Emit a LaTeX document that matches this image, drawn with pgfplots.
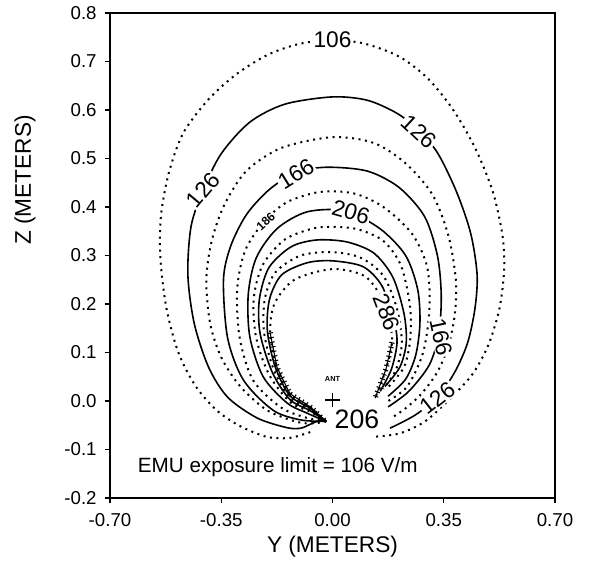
\documentclass[border=0pt]{standalone}
\usepackage{fontspec}
\setmainfont{Liberation Sans}
\usepackage{pgfplots}
\pgfplotsset{compat=1.18}
\usetikzlibrary{decorations.pathreplacing}
\pgfplotsset{
  dotc/.style={black, line width=1.5pt, dash pattern=on 1.5pt off 3.4pt, smooth, no marks},
  solc/.style={black, line width=1.2pt, smooth, no marks},
}
\tikzset{clab/.style={fill=white, inner sep=0.8pt, font=\fontsize{17}{17}\selectfont}}
\begin{document}
\begin{tikzpicture}
\begin{axis}[
  scale only axis, width=333.75pt, height=363.75pt,
  xmin=-0.7, xmax=0.7, ymin=-0.2, ymax=0.8,
  xtick={-0.7,-0.35,0,0.35,0.7},
  xticklabels={-0.70,-0.35,0.00,0.35,0.70},
  ytick={-0.2,-0.1,0,0.1,0.2,0.3,0.4,0.5,0.6,0.7,0.8},
  yticklabels={-0.2,-0.1,0.0,0.1,0.2,0.3,0.4,0.5,0.6,0.7,0.8},
  xtick pos=lower, ytick pos=left,
  tick align=outside, major tick length=4pt,
  tick style={black, line width=0.9pt},
  axis line style={line width=1.4pt},
  xticklabel style={font=\fontsize{14}{14}\selectfont, yshift=-4pt},
  yticklabel style={font=\fontsize{14}{14}\selectfont, xshift=-2.5pt},
  xlabel={Y (METERS)}, ylabel={Z (METERS)},
  xlabel style={at={(rel axis cs:0.5,-0.101)}, anchor=center, font=\fontsize{17}{17}\selectfont},
  ylabel style={at={(rel axis cs:-0.191,0.656)}, anchor=center, font=\fontsize{17}{17}\selectfont},
  clip=false,
]
% 106
\addplot[dotc] coordinates {(-0.07,-0.064) (-0.134,-0.076) (-0.206,-0.074) (-0.29,-0.052) (-0.363,-0.02) (-0.43,0.03) (-0.485,0.1) (-0.522,0.19) (-0.541,0.29) (-0.54,0.38) (-0.515,0.47) (-0.47,0.552) (-0.39,0.622) (-0.3,0.675) (-0.2,0.715) (-0.1,0.737) (0,0.744) (0.1,0.737) (0.21,0.71) (0.3,0.665) (0.38,0.6) (0.45,0.52) (0.505,0.43) (0.535,0.34) (0.54,0.27) (0.525,0.19) (0.49,0.115) (0.44,0.055) (0.37,0.005) (0.291,-0.042) (0.21,-0.067) (0.124,-0.074)};
% 126
\addplot[solc] coordinates {(-0.02,-0.042) (-0.045,-0.041) (-0.07,-0.048) (-0.1,-0.056) (-0.143,-0.055) (-0.237,-0.035) (-0.33,0.008) (-0.39,0.07) (-0.435,0.16) (-0.455,0.26) (-0.445,0.36) (-0.407,0.435) (-0.35,0.51) (-0.26,0.575) (-0.15,0.612) (0,0.627) (0.11,0.62) (0.206,0.592) (0.275,0.555) (0.332,0.51) (0.391,0.43) (0.435,0.345) (0.455,0.26) (0.448,0.19) (0.425,0.12) (0.385,0.06) (0.33,0.008) (0.26,-0.029) (0.181,-0.056)};
% 146
\addplot[dotc] coordinates {(-0.02,-0.042) (-0.06,-0.046) (-0.112,-0.043) (-0.206,-0.019) (-0.29,0.03) (-0.35,0.09) (-0.385,0.16) (-0.397,0.25) (-0.38,0.33) (-0.34,0.405) (-0.27,0.475) (-0.16,0.522) (0,0.544) (0.13,0.532) (0.23,0.49) (0.315,0.425) (0.365,0.34) (0.388,0.25) (0.385,0.18) (0.365,0.115) (0.33,0.06) (0.28,0.015) (0.23,-0.015) (0.19,-0.033)};
% 166
\addplot[solc] coordinates {(-0.02,-0.042) (-0.1,-0.039) (-0.187,-0.019) (-0.28,0.043) (-0.33,0.13) (-0.343,0.25) (-0.32,0.32) (-0.27,0.385) (-0.197,0.437) (-0.112,0.472) (-0.017,0.482) (0.11,0.474) (0.21,0.44) (0.29,0.38) (0.33,0.3) (0.342,0.22) (0.335,0.14) (0.305,0.075) (0.24,0.02) (0.175,-0.012)};
% 186
\addplot[dotc] coordinates {(-0.02,-0.042) (-0.09,-0.033) (-0.165,-0.012) (-0.25,0.043) (-0.292,0.13) (-0.3,0.23) (-0.275,0.31) (-0.215,0.37) (-0.143,0.41) (-0.04,0.431) (0.067,0.428) (0.16,0.40) (0.25,0.345) (0.298,0.276) (0.305,0.19) (0.285,0.1) (0.235,0.03) (0.17,-0.002)};
% 206
\addplot[solc] coordinates {(-0.02,-0.042) (-0.08,-0.025) (-0.143,-0.004) (-0.218,0.05) (-0.26,0.132) (-0.265,0.22) (-0.24,0.295) (-0.175,0.355) (-0.08,0.39) (0.04,0.392) (0.15,0.355) (0.23,0.3) (0.268,0.23) (0.275,0.16) (0.262,0.095) (0.23,0.045) (0.175,0.01)};
% 226
\addplot[dotc] coordinates {(-0.02,-0.042) (-0.07,-0.022) (-0.134,-0.002) (-0.2,0.055) (-0.24,0.13) (-0.248,0.21) (-0.22,0.28) (-0.15,0.333) (-0.06,0.356) (0.0,0.359) (0.08,0.354) (0.16,0.33) (0.215,0.28) (0.243,0.2) (0.245,0.13) (0.225,0.07) (0.17,0.025)};
% 246
\addplot[solc] coordinates {(-0.02,-0.042) (-0.07,-0.02) (-0.134,0.003) (-0.19,0.06) (-0.228,0.14) (-0.23,0.21) (-0.2,0.275) (-0.13,0.318) (-0.05,0.332) (0.045,0.328) (0.13,0.305) (0.19,0.255) (0.225,0.18) (0.232,0.12) (0.212,0.07) (0.165,0.03)};
% 266
\addplot[dotc] coordinates {(-0.02,-0.042) (-0.07,-0.018) (-0.134,0.007) (-0.185,0.065) (-0.215,0.14) (-0.213,0.21) (-0.18,0.265) (-0.1,0.3) (0.0,0.307) (0.09,0.295) (0.16,0.258) (0.203,0.19) (0.218,0.12) (0.2,0.065) (0.16,0.025)};
% 286
\addplot[solc] coordinates {(-0.02,-0.042) (-0.07,-0.015) (-0.134,0.011) (-0.18,0.07) (-0.205,0.145) (-0.198,0.21) (-0.16,0.26) (-0.08,0.285) (0.0,0.289) (0.096,0.277) (0.155,0.238) (0.192,0.17) (0.203,0.12) (0.185,0.065) (0.15,0.02)};
% 306
\addplot[dotc] coordinates {(-0.02,-0.042) (-0.07,-0.012) (-0.134,0.015) (-0.175,0.07) (-0.196,0.14) (-0.183,0.2) (-0.12,0.25) (0.0,0.272) (0.1,0.258) (0.152,0.215) (0.18,0.16) (0.187,0.12) (0.168,0.065) (0.134,0.006)};
\addplot[black, line width=0.8pt, no marks, postaction={draw, decorate, decoration={ticks, segment length=3.5pt, amplitude=2pt}}] coordinates {(-0.196,0.14) (-0.175,0.07) (-0.134,0.015) (-0.07,-0.012) (-0.025,-0.04)};
\addplot[black, line width=0.8pt, no marks, postaction={draw, decorate, decoration={ticks, segment length=3.5pt, amplitude=2pt}}] coordinates {(0.187,0.12) (0.168,0.065) (0.134,0.006)};
% antenna
\addplot[only marks, mark=+, mark size=5.5pt, line width=1pt, black] coordinates {(0,0.002)};
% labels
\node[clab] at (axis cs:0,0.744) {106};
\node[clab, rotate=50] at (axis cs:-0.407,0.435) {126};
\node[clab, rotate=-43] at (axis cs:0.272,0.555) {126};
\node[clab, rotate=32] at (axis cs:-0.115,0.468) {166};
\node[clab, rotate=43, inner sep=0.3pt, font=\fontsize{9}{9}\selectfont\bfseries] at (axis cs:-0.21,0.37) {186};
\node[clab, rotate=-16] at (axis cs:0.058,0.39) {206};
\node[clab, rotate=-69] at (axis cs:0.171,0.183) {286};
\node[clab, rotate=-78] at (axis cs:0.341,0.132) {166};
\node[clab, rotate=38] at (axis cs:0.33,0.006) {126};
\node[fill=white, inner sep=0.5pt, font=\fontsize{20}{20}\selectfont] at (axis cs:0.077,-0.037) {206};
\node[font=\fontsize{5.5}{5.5}\selectfont\bfseries] at (axis cs:0,0.045) {ANT};
\node[anchor=base west, font=\fontsize{15.5}{15.5}\selectfont] at (axis cs:-0.627,-0.148) {EMU exposure limit = 106 V/m};
\coordinate (bl) at (rel axis cs:0,0);
\coordinate (tr) at (rel axis cs:1,1);
\end{axis}
\pgfresetboundingbox
\path ([xshift=-82.5pt,yshift=-48.75pt]bl) rectangle ([xshift=30.75pt,yshift=9.75pt]tr);
\end{tikzpicture}
\end{document}
